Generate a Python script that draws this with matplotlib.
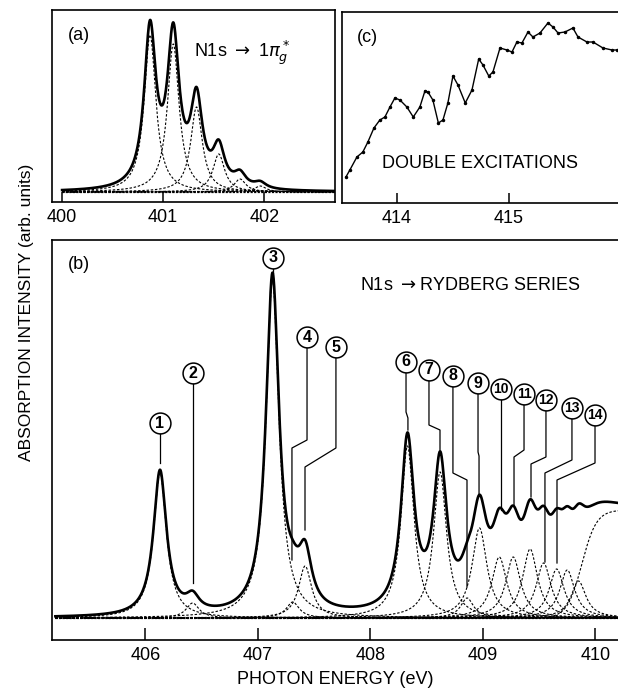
import numpy as np
import matplotlib
matplotlib.use("Agg")
import matplotlib.pyplot as plt

# ---------------- data ----------------
# Panel (a): N1s -> 1pi_g* vibrational components (energy eV, height, HWHM)
a_energy = [400.87, 401.10, 401.33, 401.55, 401.76, 401.96]
a_height = [157, 148, 85, 38, 13, 6]
a_hwhm = [0.07, 0.07, 0.07, 0.07, 0.07, 0.07]
a_ticks = [400, 401, 402]

# Panel (b): N1s -> Rydberg series fit components
b_energy = [406.13, 406.42, 407.13, 407.31, 407.42, 408.33, 408.62, 408.86,
            408.97, 409.146, 409.27, 409.42, 409.54, 409.656, 409.75, 409.85]
b_height = [145, 15, 338, 16, 52, 172, 146, 20,
            90, 61, 61, 69, 55, 49, 48, 37]
b_hwhm = [0.07, 0.07, 0.07, 0.07, 0.07, 0.07, 0.07, 0.07,
          0.08, 0.08, 0.08, 0.08, 0.08, 0.08, 0.08, 0.08]
step_center = 409.88
step_height = 108
step_width = 0.065
b_ticks = [406, 407, 408, 409, 410]

# Rydberg labels
label_numbers = [1, 2, 3, 4, 5, 6, 7, 8, 9, 10, 11, 12, 13, 14]
label_peak_energy = [406.13, 406.423, 407.134, 407.303, 407.419, 408.334, 408.619,
                     408.859, 408.966, 409.161, 409.277, 409.428, 409.552, 409.659]

# Panel (c): double excitations
c_energy = [413.545, 413.58, 413.643, 413.696, 413.741, 413.795, 413.848, 413.893,
            413.938, 413.982, 414.027, 414.089, 414.146, 414.205, 414.25, 414.277,
            414.321, 414.37, 414.411, 414.455, 414.50, 414.545, 414.61, 414.67,
            414.73, 414.768, 414.82, 414.857, 414.92, 414.982, 415.027, 415.071,
            415.116, 415.17, 415.214, 415.277, 415.348, 415.393, 415.438, 415.50,
            415.571, 415.616, 415.696, 415.75, 415.839, 415.92, 415.964]
c_signal = [26, 33, 46, 51, 61, 75, 83, 86,
            96, 105, 103, 96, 86, 96, 112, 111,
            103, 80, 83, 100, 127, 118, 100, 113,
            144, 138, 127, 131, 155, 153, 151, 161,
            160, 171, 166, 170, 180, 176, 170, 171,
            175, 166, 161, 161, 155, 153, 153]
c_ticks = [414, 415]

# ---------------- layout (pixels) ----------------
W, H, DPI = 618, 690, 100
fig = plt.figure(figsize=(W / DPI, H / DPI), dpi=DPI)
plt.rcParams['font.family'] = ['Liberation Sans', 'DejaVu Sans']


def box(left, top, right, bottom):
    return [left / W, 1 - bottom / H, (right - left) / W, (bottom - top) / H]


def ftext(px, py, s, **kw):
    fig.text(px / W, 1 - py / H, s, **kw)


def lorentz(x, e0, h, g):
    return h * g ** 2 / ((x - e0) ** 2 + g ** 2)


def style(ax, ticks, length):
    ax.set_yticks([])
    ax.set_xticks(ticks)
    ax.tick_params(axis='x', direction='in', length=length, width=1.1,
                   pad=5, labelsize=13)
    for s in ax.spines.values():
        s.set_linewidth(1.2)


dash = dict(color='black', lw=0.8, ls=(0, (2.2, 1.6)))

# ---- panel (a)
axa = fig.add_axes(box(52, 10, 335, 202))
axa.set_xlim(399.90, 402.70)
axa.set_ylim(-10, 182)
xa = np.linspace(400.0, 402.7, 1200)
tot_a = np.zeros_like(xa)
for e, h, g in zip(a_energy, a_height, a_hwhm):
    comp = lorentz(xa, e, h, g)
    tot_a += comp
    axa.plot(xa, comp, **dash)
axa.plot(xa, np.zeros_like(xa), color='black', lw=1.6, ls=(0, (1, 0.6)))
axa.plot(xa, tot_a, color='black', lw=1.9)
style(axa, a_ticks, 7)

# ---- panel (c)
axc = fig.add_axes(box(342, 12, 621, 203))
axc.set_xlim(413.51, 416.0)
axc.set_ylim(0, 191)
axc.plot(c_energy, c_signal, color='black', lw=1.0, marker='.', ms=3)
style(axc, c_ticks, 7)

# ---- panel (b)
axb = fig.add_axes(box(52, 240, 621, 640))
axb.set_xlim(405.17, 410.228)
axb.set_ylim(-22, 378)
xb = np.linspace(405.2, 410.25, 3000)
tot_b = np.zeros_like(xb)
for e, h, g in zip(b_energy, b_height, b_hwhm):
    comp = lorentz(xb, e, h, g)
    tot_b += comp
    axb.plot(xb, comp, **dash)
step = step_height / (1 + np.exp(-(xb - step_center) / step_width))
tot_b += step
axb.plot(xb, step, **dash)
axb.plot(xb, np.zeros_like(xb), color='black', lw=1.6, ls=(0, (1, 0.6)))
axb.plot(xb, tot_b, color='black', lw=1.9)
style(axb, b_ticks, 9)

# leader lines and circled numbers (positions in panel-b coordinates)
circ_E = [406.13, 406.423, 407.134, 407.437, 407.694, 408.317, 408.521,
          408.734, 408.957, 409.161, 409.366, 409.561, 409.792, 409.997]
circ_y = [195, 245, 360, 281, 271, 256, 248, 242, 235, 229, 224, 218, 210, 203]
knee_y = [170, 100, 350, 178, 170, 206, 193, 145, 166, 170, 168, 161, 158, 155]
foot_knee_y = [170, 100, 350, 170, 151, 200, 188, 138, 162, 170, 161, 154, 145, 138]
end_y = [155, 35, 345, 58, 88, 188, 168, 31, 123, 108, 113, 121, 56, 55]
for n, pe, ce, cy, k1, k2, ey in zip(label_numbers, label_peak_energy, circ_E,
                                     circ_y, knee_y, foot_knee_y, end_y):
    axb.plot([ce, ce, pe, pe], [cy - 10, k1, k2, ey], color='black', lw=0.9,
             zorder=4)
    axb.plot([ce], [cy], 'o', ms=15, mfc='white', mec='black', mew=1.1,
             zorder=5)
    axb.text(ce, cy, str(n), ha='center', va='center',
             fontsize=11.5 if n < 10 else 10, fontweight='bold', zorder=6)

# ---- texts
ftext(79, 35, '(a)', ha='center', va='center', fontsize=13)
ftext(367, 37, '(c)', ha='center', va='center', fontsize=13)
ftext(79, 265, '(b)', ha='center', va='center', fontsize=13)
ftext(194, 53, r'N1s $\rightarrow$ 1$\pi_g^*$', ha='left', va='center',
      fontsize=13)
ftext(480, 163, 'DOUBLE EXCITATIONS', ha='center', va='center', fontsize=13)
ftext(470, 285, r'N1s $\rightarrow$RYDBERG SERIES', ha='center', va='center',
      fontsize=13)
ftext(335, 680, 'PHOTON ENERGY (eV)', ha='center', va='center', fontsize=13)
ftext(27, 312, 'ABSORPTION INTENSITY (arb. units)', ha='center', va='center',
      rotation=90, fontsize=12.5)

fig.savefig('out.png', dpi=DPI)
